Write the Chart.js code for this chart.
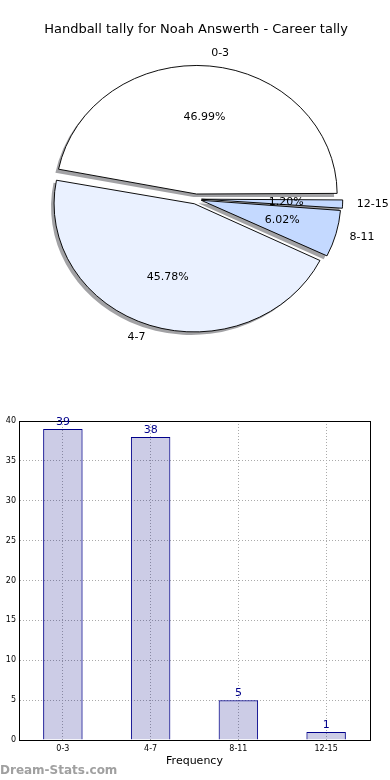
<!DOCTYPE html>
<html>
<head>
<meta charset="utf-8">
<script src="https://cdn.jsdelivr.net/npm/chart.js@4/dist/chart.umd.min.js"></script>
<style>
  body { margin: 0; background: #fff; }
  #wrap { position: relative; width: 390px; height: 780px; overflow: hidden; }
  #pieBox { position: absolute; left: 0; top: 0; width: 390px; height: 390px; }
  #barBox { position: absolute; left: 0; top: 400px; width: 390px; height: 380px; }
  #mark { position: absolute; left: 0; top: 763px; font: bold 12px 'DejaVu Sans', sans-serif; color: #a0a0a0; }
</style>
</head>
<body>
<div id="wrap">
  <div id="pieBox"><canvas id="pieChart"></canvas></div>
  <div id="barBox"><canvas id="barChart"></canvas></div>
  <div id="mark">Dream-Stats.com</div>
</div>
<script>
const categories = ['0-3', '4-7', '8-11', '12-15'];
const tally = [39, 38, 5, 1];
const sliceColours = ['#ffffff', '#eaf1ff', '#c4d9ff', '#c4d9ff'];
const yTicks = [0, 5, 10, 15, 20, 25, 30, 35, 40];

const total = tally.reduce((a, b) => a + b, 0);
const stretchX = 140 / 128;  // the pie is a bit wider than tall

// matplotlib starts at 3 o'clock going anticlockwise, chart.js goes clockwise
const pieLabels = categories.slice().reverse();
const pieValues = tally.slice().reverse();
const pieColours = sliceColours.slice().reverse();

function arcGeom(a) {
    const off = (a.options.offset || 0) / 4;
    const circ = a.endAngle - a.startAngle;
    const fix = 1 - Math.sin(Math.min(Math.PI, circ));
    return { mid: (a.startAngle + a.endAngle) / 2, off: off, r: a.outerRadius + off * fix };
}

const pieLook = {
    id: 'pieLook',
    beforeDatasetsDraw(chart) {
        const ctx = chart.ctx;
        const arcs = chart.getDatasetMeta(0).data;
        const cx = arcs[0].x, cy = arcs[0].y;
        // shadows under all wedges
        ctx.save();
        ctx.translate(-3, 3);
        ctx.translate(cx, cy);
        ctx.scale(stretchX, 1);
        ctx.translate(-cx, -cy);
        arcs.forEach(a => {
            const g = arcGeom(a);
            const x = a.x + Math.cos(g.mid) * g.off;
            const y = a.y + Math.sin(g.mid) * g.off;
            ctx.beginPath();
            ctx.moveTo(x, y);
            ctx.arc(x, y, g.r, a.startAngle, a.endAngle);
            ctx.closePath();
            ctx.fillStyle = 'rgba(70,70,75,0.5)';
            ctx.fill();
        });
        ctx.restore();

        ctx.save();
        ctx.translate(cx, cy);
        ctx.scale(stretchX, 1);
        ctx.translate(-cx, -cy);
    },
    afterDatasetsDraw(chart) {
        const ctx = chart.ctx;
        ctx.restore();
        const arcs = chart.getDatasetMeta(0).data;
        ctx.save();
        ctx.font = '11px "DejaVu Sans"';
        ctx.fillStyle = '#000';
        ctx.textBaseline = 'middle';
        arcs.forEach((a, i) => {
            const g = arcGeom(a);
            const at = k => {
                const d = g.off + k * g.r;
                return [a.x + stretchX * Math.cos(g.mid) * d, a.y + Math.sin(g.mid) * d];
            };
            const p = at(0.6);
            ctx.textAlign = 'center';
            const pct = (pieValues[i] / total * 100).toFixed(2) + '%';
            ctx.fillText(pct, p[0], p[1]);
            const q = at(1.1);
            ctx.textAlign = Math.cos(g.mid) > 0 ? 'left' : 'right';
            ctx.fillText(pieLabels[i], q[0], q[1]);
        });
        ctx.restore();
    }
};

new Chart(document.getElementById('pieChart'), {
    type: 'pie',
    data: {
        labels: pieLabels,
        datasets: [{
            data: pieValues,
            backgroundColor: pieColours,
            borderColor: '#000',
            borderWidth: 0.9,
            offset: 20,
            clip: false
        }]
    },
    options: {
        responsive: true,
        maintainAspectRatio: false,
        animation: false,
        rotation: 90,
        radius: 124.5,
        layout: { padding: { left: 2, right: 0, top: 0, bottom: 52 } },
        plugins: {
            legend: { display: false },
            tooltip: { enabled: false },
            title: {
                display: true,
                text: 'Handball tally for Noah Answerth - Career tally',
                color: '#000',
                font: { family: 'DejaVu Sans', size: 13, weight: 'normal' },
                padding: { top: 22, bottom: 22.4 }
            }
        }
    },
    plugins: [pieLook]
});

const barExtras = {
    id: 'barExtras',
    afterDatasetsDraw(chart) {
        const ctx = chart.ctx;
        const area = chart.chartArea;
        ctx.save();
        ctx.strokeStyle = '#000';
        ctx.lineWidth = 1;
        ctx.strokeRect(Math.round(area.left) + 0.5, Math.round(area.top) + 0.5,
            Math.round(area.right - area.left), Math.round(area.bottom - area.top));
        ctx.font = '11px "DejaVu Sans"';
        ctx.fillStyle = '#00008b';
        ctx.textAlign = 'center';
        ctx.textBaseline = 'bottom';
        chart.getDatasetMeta(0).data.forEach((bar, i) => {
            ctx.fillText(String(tally[i]), bar.x, bar.y - 1);
        });
        ctx.restore();
    }
};

new Chart(document.getElementById('barChart'), {
    type: 'bar',
    data: {
        labels: categories,
        datasets: [{
            data: tally,
            backgroundColor: 'rgba(0,0,128,0.2)',
            borderColor: '#00008b',
            borderWidth: 1,
            barPercentage: 0.45,
            categoryPercentage: 1
        }]
    },
    options: {
        responsive: true,
        maintainAspectRatio: false,
        animation: false,
        layout: { padding: { left: 0, right: 20, top: 21, bottom: 0 } },
        plugins: { legend: { display: false }, tooltip: { enabled: false } },
        scales: {
            x: {
                afterFit: s => { s.height = 40; },
                grid: { offset: false, color: '#aaa', drawTicks: false },
                border: { display: true, color: '#000', dash: [1, 2] },
                ticks: { color: '#000', padding: 4, font: { family: 'DejaVu Sans', size: 8 } },
                title: {
                    display: true, text: 'Frequency', color: '#000',
                    font: { family: 'DejaVu Sans', size: 11 },
                    padding: { top: 0, bottom: 12 }
                }
            },
            y: {
                min: 0, max: 40,
                afterFit: s => { s.width = 19; },
                afterBuildTicks: s => { s.ticks = yTicks.map(v => ({ value: v })); },
                grid: { color: '#aaa', drawTicks: false },
                border: { display: true, color: '#000', dash: [1, 2] },
                ticks: { color: '#000', padding: 3, font: { family: 'DejaVu Sans', size: 8 } }
            }
        }
    },
    plugins: [barExtras]
});
</script>
</body>
</html>
